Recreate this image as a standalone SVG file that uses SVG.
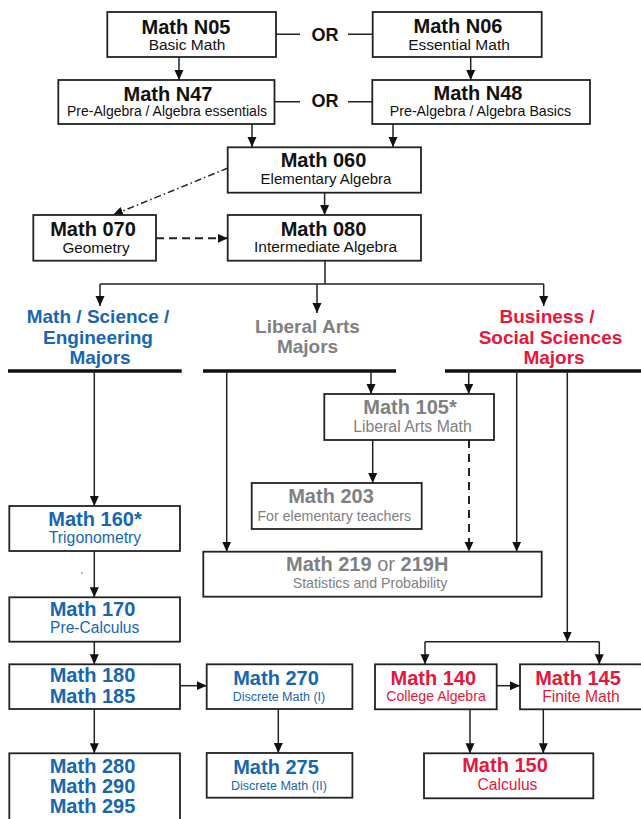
<svg xmlns="http://www.w3.org/2000/svg" width="641" height="819" viewBox="0 0 641 819">
<style>
text{font-family:"Liberation Sans",Arial,Helvetica,sans-serif;text-anchor:middle}
.t{font-weight:bold;font-size:20px}
.s{font-size:15px}
.k{fill:#111}
.b{fill:#1767b0}
.g{fill:#808082}
.r{fill:#e5173c}
.box{fill:#fff;stroke:#222;stroke-width:1.8}
.ln{fill:none;stroke:#222;stroke-width:1.5}
.arr{marker-end:url(#ah)}
.thick{fill:none;stroke:#111;stroke-width:3.5}
.h{font-weight:bold;font-size:19px}
</style>
<defs>
<marker id="ah" markerUnits="userSpaceOnUse" markerWidth="10" markerHeight="10" viewBox="0 0 10 10" refX="10" refY="5" orient="auto">
<path d="M0,0.5 L10,5 L0,9.5 Z" fill="#111"/>
</marker>
</defs>
<rect width="641" height="819" fill="#fff"/>
<g id="connectors">
<path class="ln arr" d="M179,57 V80"/>
<path class="ln arr" d="M470.7,57 V80"/>
<path class="ln" d="M276,34.3 H300 M348,34.3 H372.7 M274.5,101.7 H300 M348,101.7 H372.3"/>
<path class="ln arr" d="M252,124 V147"/>
<path class="ln arr" d="M393,124 V147"/>
<path class="ln arr" d="M324.6,192.7 V215"/>
<path class="ln arr" d="M228,168 L113,215" stroke-dasharray="7 3 1.5 3"/>
<path class="ln arr" d="M156,238.3 H227.7" stroke-dasharray="8 5" style="stroke-width:2"/>
<path class="ln" d="M325,260.7 V284 M100,284 H543.7"/>
<path class="ln arr" d="M100,284 V306"/>
<path class="ln arr" d="M317,284 V313"/>
<path class="ln arr" d="M543.7,284 V306"/>
<path class="thick" d="M8,371 H181.7 M203,371 H396 M445,371 H641"/>
<path class="ln arr" d="M94.3,371 V506"/>
<path class="ln arr" d="M226.7,371 V551.7"/>
<path class="ln arr" d="M371,371 V394"/>
<path class="ln arr" d="M468.7,371 V394"/>
<path class="ln arr" d="M516.7,371 V551.7"/>
<path class="ln arr" d="M567.3,371 V641.7"/>
<path class="ln arr" d="M372.7,440 V483"/>
<path class="ln arr" d="M469,440 V551.7" stroke-dasharray="8 6" style="stroke-width:2"/>
<path class="ln arr" d="M94.3,551 V597.3"/>
<path class="ln arr" d="M94.3,641.7 V664.3"/>
<path class="ln arr" d="M94.3,709 V753.3"/>
<path class="ln arr" d="M180,685.7 H206.7"/>
<path class="ln arr" d="M278.3,709 V753"/>
<path class="ln" d="M425,641.7 H599.3"/>
<path class="ln arr" d="M425,641.7 V664.3"/>
<path class="ln arr" d="M599.3,641.7 V664.3"/>
<path class="ln arr" d="M496.7,685.7 H520"/>
<path class="ln arr" d="M470,709.3 V753.3"/>
<path class="ln arr" d="M543.3,709.3 V753.3"/>
<circle cx="82" cy="573" r="0.7" fill="#444"/>
</g>
<g id="or-labels">
<text class="k" x="325" y="41" style="font-weight:bold;font-size:18px">OR</text>
<text class="k" x="325" y="107" style="font-weight:bold;font-size:18px">OR</text>
</g>
<g id="mathN05"><rect class="box" x="107.3" y="12" width="168.7" height="45"/>
<text class="t k" x="186" y="33.5">Math N05</text><text class="s k" x="187" y="50" style="font-size:15.5px">Basic Math</text></g>
<g id="mathN06"><rect class="box" x="372.7" y="12" width="169" height="45"/>
<text class="t k" x="458" y="32.5">Math N06</text><text class="s k" x="459" y="49.5" style="font-size:15.5px">Essential Math</text></g>
<g id="mathN47"><rect class="box" x="58.3" y="80" width="216.2" height="44"/>
<text class="t k" x="168" y="100.5">Math N47</text><text class="s k" x="167" y="116" style="font-size:14px">Pre-Algebra / Algebra essentials</text></g>
<g id="mathN48"><rect class="box" x="372.3" y="80" width="217.7" height="44"/>
<text class="t k" x="478" y="100">Math N48</text><text class="s k" x="480.5" y="116" style="font-size:14.2px">Pre-Algebra / Algebra Basics</text></g>
<g id="math060"><rect class="box" x="227.7" y="147.3" width="193.3" height="45.4"/>
<text class="t k" x="323.5" y="167">Math 060</text><text class="s k" x="326" y="184">Elementary Algebra</text></g>
<g id="math070"><rect class="box" x="33.3" y="215" width="122.7" height="45.7"/>
<text class="t k" x="93" y="235.5">Math 070</text><text class="s k" x="96" y="253.2" style="font-size:15.3px">Geometry</text></g>
<g id="math080"><rect class="box" x="227.7" y="215" width="193.3" height="45.7"/>
<text class="t k" x="323.5" y="235.5">Math 080</text><text class="s k" x="325.5" y="252" style="font-size:15.5px">Intermediate Algebra</text></g>
<g id="heading-mse">
<text class="h b" x="98" y="323.3">Math / Science /</text>
<text class="h b" x="98" y="344">Engineering</text>
<text class="h b" x="100" y="364">Majors</text></g>
<g id="heading-la">
<text class="h g" x="307.5" y="333.3">Liberal Arts</text>
<text class="h g" x="307.5" y="353.3">Majors</text></g>
<g id="heading-bss">
<text class="h r" x="547" y="323.3">Business /</text>
<text class="h r" x="550.5" y="344">Social Sciences</text>
<text class="h r" x="554" y="364">Majors</text></g>
<g id="math105"><rect class="box" x="324.3" y="394" width="169.7" height="46"/>
<text class="t g" x="410" y="414">Math 105*</text><text class="s g" x="412.5" y="431.5" style="font-size:15.8px">Liberal Arts Math</text></g>
<g id="math203"><rect class="box" x="251.7" y="483" width="170" height="46"/>
<text class="t g" x="331" y="503.3">Math 203</text><text class="s g" x="334.3" y="520.7" style="font-size:14.2px">For elementary teachers</text></g>
<g id="math219"><rect class="box" x="203.3" y="551.7" width="338.4" height="45"/>
<text class="t g" x="367.2" y="570.7">Math 219<tspan style="font-weight:normal"> or </tspan>219H</text>
<text class="s g" x="370" y="588.3" style="font-size:14.2px">Statistics and Probability</text></g>
<g id="math160"><rect class="box" x="9.3" y="506" width="170.7" height="45"/>
<text class="t b" x="95" y="525.7">Math 160*</text><text class="s b" x="95" y="543.3" style="font-size:15.8px">Trigonometry</text></g>
<g id="math170"><rect class="box" x="9.3" y="597.3" width="170.7" height="44.4"/>
<text class="t b" x="92.5" y="616">Math 170</text><text class="s b" x="94.7" y="633.3" style="font-size:15.6px">Pre-Calculus</text></g>
<g id="math180"><rect class="box" x="9.3" y="664.3" width="170.7" height="44.7"/>
<text class="t b" x="92.5" y="681.7">Math 180</text><text class="t b" x="92.5" y="702.7">Math 185</text></g>
<g id="math280"><rect class="box" x="9.3" y="753.3" width="170.7" height="80"/>
<text class="t b" x="92.5" y="772.7">Math 280</text><text class="t b" x="92.5" y="792.7">Math 290</text><text class="t b" x="92.5" y="813.3">Math 295</text></g>
<g id="math270"><rect class="box" x="206.7" y="664.3" width="145.7" height="44.7"/>
<text class="t b" x="276" y="685">Math 270</text><text class="s b" x="279" y="701" style="font-size:12.5px">Discrete Math (I)</text></g>
<g id="math275"><rect class="box" x="206.7" y="753" width="145.7" height="44.7"/>
<text class="t b" x="276" y="774.3">Math 275</text><text class="s b" x="279" y="790" style="font-size:12.5px">Discrete Math (II)</text></g>
<g id="math140"><rect class="box" x="375" y="664.3" width="121.7" height="45"/>
<text class="t r" x="433.3" y="684.5">Math 140</text><text class="s r" x="436" y="701" style="font-size:14.1px">College Algebra</text></g>
<g id="math145"><rect class="box" x="520" y="664.3" width="124" height="45"/>
<text class="t r" x="578" y="684.5">Math 145</text><text class="s r" x="581" y="701.5" style="font-size:15.7px">Finite Math</text></g>
<g id="math150"><rect class="box" x="424" y="753.3" width="169.3" height="45"/>
<text class="t r" x="505" y="772.3">Math 150</text><text class="s r" x="507.5" y="790" style="font-size:15.6px">Calculus</text></g>
</svg>
